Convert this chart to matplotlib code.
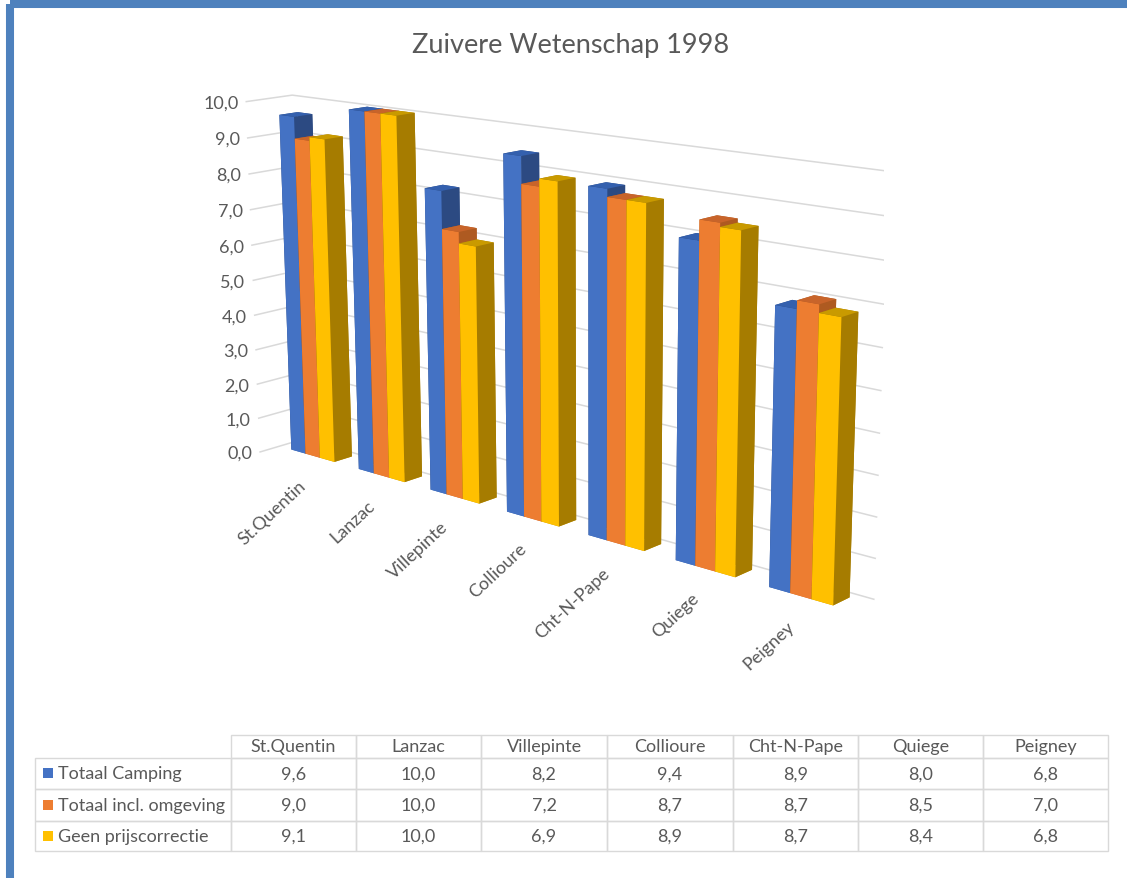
import numpy as np
import matplotlib
matplotlib.use('Agg')
import matplotlib.pyplot as plt
from matplotlib.patches import Rectangle
from mpl_toolkits.mplot3d import proj3d

plt.rcParams['font.family'] = ['Lato', 'DejaVu Sans']

# --- data ---
categories = ['St.Quentin', 'Lanzac', 'Villepinte', 'Collioure', 'Cht-N-Pape', 'Quiege', 'Peigney']
series_names = ['Totaal Camping', 'Totaal incl. omgeving', 'Geen prijscorrectie']
totaal_camping = [9.6, 10.0, 8.2, 9.4, 8.9, 8.0, 6.8]
totaal_omgeving = [9.0, 10.0, 7.2, 8.7, 8.7, 8.5, 7.0]
geen_correctie = [9.1, 10.0, 6.9, 8.9, 8.7, 8.4, 6.8]
y_ticks = [0, 1, 2, 3, 4, 5, 6, 7, 8, 9, 10]

# --- style ---
TXT = '#595959'
GRID = '#D9D9D9'
FRONT = ['#4472C4', '#ED7D31', '#FFC000']
TOP = ['#3460AE', '#C8642A', '#C99A00']
SIDE = ['#2C4A82', '#AE5A21', '#A67C00']

W, H = 1127, 879
fig = plt.figure(figsize=(W / 100, H / 100), dpi=100, facecolor='white')

# overlay in pixel coordinates for frame, title, labels and table
ov = fig.add_axes([0, 0, 1, 1])
ov.set_xlim(0, W)
ov.set_ylim(H, 0)
ov.axis('off')
ov.add_patch(Rectangle((10, 5), W + 20, H, fill=False, ec='#4E81BD', lw=5.8))
ov.text(571, 46, 'Zuivere Wetenschap 1998', ha='center', va='center', fontsize=19.5, color=TXT)

# --- 3D chart ---
ax = fig.add_axes([-0.015, 0.2028, 0.96, 0.82], projection='3d')
ax.patch.set_alpha(0)
ax.set_proj_type('persp', focal_length=0.55)
ax.set_box_aspect((780, 67, 400), zoom=1.175)
ax.view_init(elev=14, azim=-48, roll=0.4)
ax.computed_zorder = False
ax.set_axis_off()

for z in y_ticks:
    ax.plot([0, 0, 7], [0, 1, 1], [z, z, z], color=GRID, lw=1.1, zorder=1)

dx = 0.215
y0, dy = 0.44, 0.4
rows = [totaal_camping, totaal_omgeving, geen_correctie]
k = 2
for i in range(len(categories)):
    for s, vals in enumerate(rows):
        faces = [TOP[s], TOP[s], FRONT[s], SIDE[s], SIDE[s], SIDE[s]]
        ax.bar3d(i + 0.18 + s * dx, y0, 0, dx, dy, vals[i], color=faces, shade=False,
                 edgecolor='none', zorder=k)
        k += 1

ax.set_xlim(0, 7, view_margin=0)
ax.set_ylim(0, 1, view_margin=0)
ax.set_zlim(0, 10, view_margin=0)

# labels go on the overlay, 3D text ignores rotation
fig.canvas.draw()


def to_px(x, y, z):
    x2, y2, _ = proj3d.proj_transform(x, y, z, ax.get_proj())
    return ov.transData.inverted().transform(ax.transData.transform((x2, y2)))


for z in y_ticks:
    px, py = to_px(0, 0, z)
    ov.text(px - 8, py + 1, f'{z},0', ha='right', va='center', fontsize=13, color=TXT)

for i, name in enumerate(categories):
    px, py = to_px(i + 0.18 + 1.5 * dx, y0, 0)
    ov.text(px - 9, py + 27, name, rotation=43, rotation_mode='anchor', ha='right', va='center',
            fontsize=13, color=TXT)

# --- data table ---
col_edges = [35, 231, 356, 481, 607, 733, 858, 983, 1108]
row_edges = [736, 759, 790, 822, 852]
cell_text = [[''] + categories]
for name, vals in zip(series_names, rows):
    cell_text.append([name] + [f'{v:.1f}'.replace('.', ',') for v in vals])
widths = list(np.diff(col_edges))
tb = ov.table(cellText=cell_text, colWidths=[w / W for w in widths], cellLoc='center',
              bbox=[col_edges[0] / W, 1 - row_edges[-1] / H,
                    (col_edges[-1] - col_edges[0]) / W, (row_edges[-1] - row_edges[0]) / H])
tb.auto_set_font_size(False)
for (r, c), cell in tb.get_celld().items():
    cell.set_height((row_edges[r + 1] - row_edges[r]) / H)
    cell.set_edgecolor(GRID)
    cell.set_linewidth(1.0)
    cell.set_facecolor('none')
    cell.set_text_props(color=TXT, fontsize=13)
    if c == 0:
        cell.PAD = 23 / widths[0]
        cell.set_text_props(ha='left')
        cell._loc = 'left'
    if r == 0 and c == 0:
        cell.set_visible(False)

for s in range(3):
    ymid = (row_edges[s + 1] + row_edges[s + 2]) / 2
    ov.add_patch(Rectangle((43, ymid - 5), 10, 10, fc=FRONT[s], ec='none', zorder=5))

fig.savefig('out.png', dpi=100)
